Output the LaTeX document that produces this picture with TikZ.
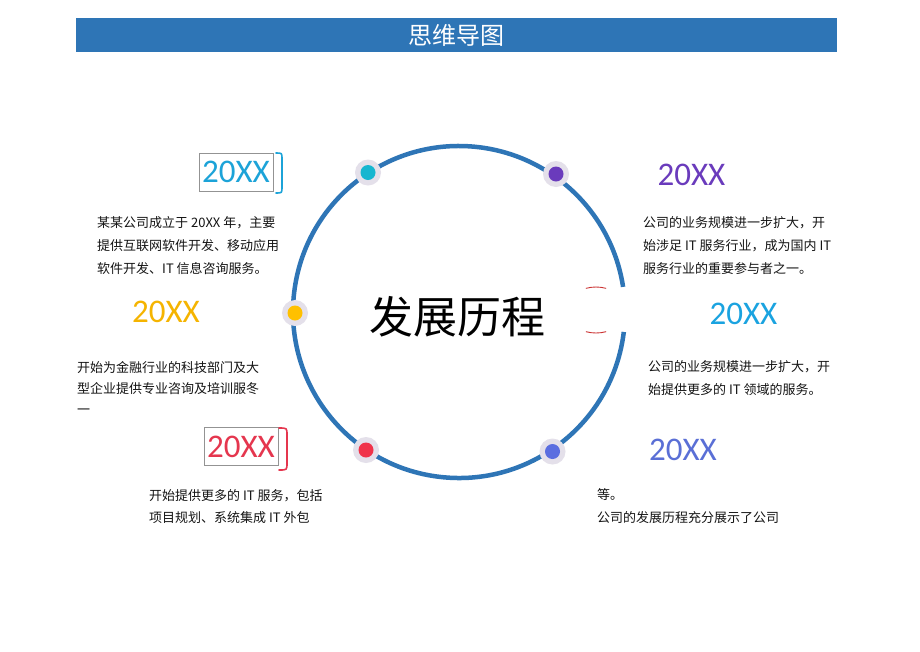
\documentclass[tikz,border=0pt]{standalone}
\usepackage{fontspec}
\newfontfamily\cjk{Noto Sans CJK SC}
\newfontfamily\yrfont{Carlito}
\definecolor{barblue}{HTML}{2E75B6}
\definecolor{ringblue}{HTML}{2E75B6}
\definecolor{halocol}{HTML}{E4E0EA}
\definecolor{ccyan}{HTML}{1CA3D8}
\definecolor{dcyan}{HTML}{16B6D0}
\definecolor{cpurple}{HTML}{6A3BBC}
\definecolor{cyellow}{HTML}{F5B400}
\definecolor{dyellow}{HTML}{FFC000}
\definecolor{cred}{HTML}{E5364E}
\definecolor{dred}{HTML}{F0334A}
\definecolor{clblue}{HTML}{1AA3E0}
\definecolor{cblue}{HTML}{5A6FD6}
\definecolor{dblue}{HTML}{5B6EE0}
\begin{document}
\begin{tikzpicture}[x=1pt,y=-1pt,
  para/.style={font=\cjk\fontsize{13}{13}\selectfont, anchor=base west, inner sep=0pt, text=black!92},
  year/.style={font=\yrfont\fontsize{33}{33}\selectfont, inner sep=0pt},
  yearbox/.style={year, draw=gray!85, line width=0.8pt, minimum width=74pt, minimum height=38pt},
  halo/.style={circle, fill=halocol, minimum size=26pt, inner sep=0pt},
  dotnode/.style={circle, minimum size=15pt, inner sep=0pt},
  ring/.style={draw=ringblue, line width=4.5pt},
  brk/.style={line width=1.6pt, line cap=round},
]
\useasboundingbox (0,0) rectangle (920,651);
\fill[white] (0,0) rectangle (920,651);

% title bar
\node[fill=barblue, minimum width=761pt, minimum height=34pt, inner sep=0pt,
      text=white, font=\cjk\fontsize{24}{24}\selectfont] (title) at (456.5,35) {思维导图};

% ring with gap on the right
\coordinate (c) at (459,312);
\draw[ring] (c) ++(6.9:166) arc[start angle=6.9, end angle=351.3, radius=166];
% small red marks in the gap
\draw[red!75!black!80, line width=0.9pt] (596,326) ++(255:39) arc[start angle=255, end angle=285, radius=39];
\draw[red!75!black!80, line width=0.9pt] (596,294) ++(75:39) arc[start angle=75, end angle=105, radius=39];

% centre text
\node[font=\cjk\fontsize{44}{44}\selectfont, inner sep=0pt] (centre) at (457,317) {发展历程};

% dots
\node[halo] (h1) at (368,172.5) {};
\node[dotnode, fill=dcyan] (d1) at (h1) {};
\node[halo] (h2) at (556,174) {};
\node[dotnode, fill=cpurple] (d2) at (h2) {};
\node[halo] (h3) at (295,313) {};
\node[dotnode, fill=dyellow] (d3) at (h3) {};
\node[halo] (h4) at (366,450) {};
\node[dotnode, fill=dred] (d4) at (h4) {};
\node[halo] (h5) at (552.5,451.5) {};
\node[dotnode, fill=dblue] (d5) at (h5) {};

% left top
\node[yearbox, text=ccyan] (y1) at (236,172) {20XX};
\coordinate (b1a) at (276,153);
\coordinate (b1b) at (276,193);
\draw[brk, draw=ccyan] (b1a) .. controls (282,153) .. (282,159) -- (282,187) .. controls (282,193) .. (b1b);
\node[para] (p1a) at (97,227) {某某公司成立于 20XX 年，主要};
\node[para] (p1b) at (97,250) {提供互联网软件开发、移动应用};
\node[para] (p1c) at (97,273) {软件开发、IT 信息咨询服务。};

% left middle
\node[year, text=cyellow] (y3) at (166,312) {20XX};
\node[para] (p3a) at (77,372) {开始为金融行业的科技部门及大};
\node[para] (p3b) at (77,393.5) {型企业提供专业咨询及培训服冬};
\node[para] (p3c) at (77,414.5) {一};

% left bottom
\node[yearbox, text=cred] (y4) at (241,446.5) {20XX};
\coordinate (b4a) at (279,428);
\coordinate (b4b) at (279,470);
\draw[brk, draw=cred] (b4a) .. controls (287,428) .. (287,435) -- (287,463) .. controls (287,470) .. (b4b);
\node[para] (p4a) at (149,500) {开始提供更多的 IT 服务，包括};
\node[para] (p4b) at (149,522) {项目规划、系统集成 IT 外包};

% right top
\node[year, text=cpurple] (y2) at (691.5,175) {20XX};
\node[para] (p2a) at (643,227.5) {公司的业务规模进一步扩大，开};
\node[para] (p2b) at (643,250) {始涉足 IT 服务行业，成为国内 IT};
\node[para] (p2c) at (643,273) {服务行业的重要参与者之一。};

% right middle
\node[year, text=clblue] (y6) at (743.5,314) {20XX};
\node[para] (p6a) at (648,371) {公司的业务规模进一步扩大，开};
\node[para] (p6b) at (648,394) {始提供更多的 IT 领域的服务。};

% right bottom
\node[year, text=cblue] (y5) at (683,450) {20XX};
\node[para] (p5a) at (597,499) {等。};
\node[para] (p5b) at (597,522) {公司的发展历程充分展示了公司};
\end{tikzpicture}
\end{document}
